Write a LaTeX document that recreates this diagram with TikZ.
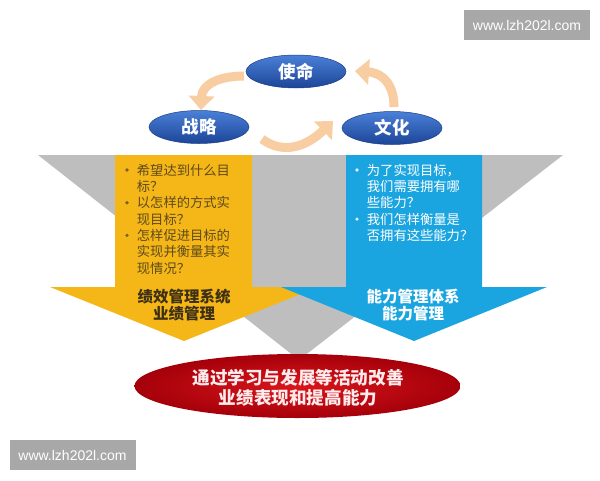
\documentclass[tikz,border=0pt]{standalone}
\usepackage{fontspec}
\setmainfont{Noto Sans CJK SC}
\newfontfamily\wmfont{Liberation Sans}
\usetikzlibrary{shapes.geometric,arrows.meta}
\definecolor{ygold}{HTML}{F5B717}
\definecolor{cblue}{HTML}{1BA5E0}
\definecolor{fgray}{HTML}{BEBEBE}
\definecolor{ellTop}{HTML}{4A80D8}
\definecolor{ellBot}{HTML}{1C4597}
\definecolor{ellEdge}{HTML}{1A3C86}
\definecolor{arrc}{HTML}{F9CDA2}
\definecolor{ytextc}{HTML}{5E4A1C}
\definecolor{ytitle}{HTML}{3E3014}
\definecolor{redIn}{HTML}{D8161C}
\definecolor{redOut}{HTML}{A5000A}
\definecolor{wmgray}{HTML}{A8A8A8}
\tikzset{
  topell/.style={ellipse, minimum width=100pt, minimum height=33pt, inner sep=0pt,
    top color=ellTop, bottom color=ellBot, draw=ellEdge, line width=0.5pt,
    text=white, font=\fontsize{17.5}{18}\selectfont\bfseries},
  carrow/.style={draw=arrc, line width=9pt, -{Triangle[width=25pt,length=14pt]}},
  ytext/.style={anchor=base west, inner sep=0pt, text=ytextc, font=\fontsize{13.3}{16}\selectfont},
  ybul/.style={circle, inner sep=0pt, minimum size=3.6pt, fill=ytextc!80!ygold},
  btext/.style={anchor=base west, inner sep=0pt, text=white, font=\fontsize{13.3}{16}\selectfont},
  bbul/.style={circle, inner sep=0pt, minimum size=3.6pt, fill=white!85!cblue},
  ttl/.style={anchor=base, inner sep=0pt, font=\fontsize{15.5}{16}\selectfont\bfseries},
  redell/.style={ellipse, minimum width=326pt, minimum height=64pt, inner sep=0pt,
    inner color=redIn, outer color=redOut},
  rtext/.style={anchor=base, inner sep=0pt, text=white!92!red, font=\fontsize{17.6}{18}\selectfont\bfseries},
  wm/.style={fill=wmgray, text=white, minimum width=126pt, minimum height=30pt, inner sep=0pt,
    font=\wmfont\fontsize{14}{14}\selectfont}
}
\begin{document}
\begin{tikzpicture}[x=1pt,y=-1pt]
\useasboundingbox (0,0) rectangle (600,480);
\fill[white] (0,0) rectangle (600,480);

% gray funnel
\fill[fgray] (38,155) -- (563,155) -- (299,360) -- cycle;

% yellow arrow
\fill[ygold] (115,155) -- (252,155) -- (252,287) -- (318,287) -- (184,341) -- (50,287) -- (115,287) -- cycle;
% blue arrow
\fill[cblue] (346,155) -- (482,155) -- (482,287) -- (547,287) -- (414,341) -- (281,287) -- (346,287) -- cycle;

% top ellipses
\node[topell] (mission) at (296,71.5) {使命};
\node[topell] (strategy) at (199,127) {战略};
\node[topell] (culture) at (392,128) {文化};

% cycle arrows
\coordinate (a1s) at (244,76);
\coordinate (a1e) at (201,110);
\coordinate (a2s) at (262,139);
\coordinate (a2e) at (333,121);
\coordinate (a3s) at (394,107);
\coordinate (a3e) at (355,71);
\draw[carrow] (a1s) .. controls (218,76) and (202,85) .. (a1e);
\draw[carrow] (a2s) .. controls (282,154) and (305,148) .. (a2e);
\draw[carrow] (a3s) .. controls (394,86) and (384,73) .. (a3e);

% yellow text
\foreach \t [count=\i] in {希望达到什么目,标？,以怎样的方式实,现目标？,怎样促进目标的,实现并衡量其实,现情况？}
  \node[ytext] (yl\i) at (136.7,{175+16.35*(\i-1)}) {\t};
\node[ybul] (yb1) at (127,170) {};
\node[ybul] (yb2) at (127,{170+16.35*2}) {};
\node[ybul] (yb3) at (127,{170+16.35*4}) {};
\node[ttl, text=ytitle] (yt1) at (184,302.5) {绩效管理系统};
\node[ttl, text=ytitle] (yt2) at (184,319) {业绩管理};

% blue text
\foreach \t [count=\i] in {为了实现目标，,我们需要拥有哪,些能力？,我们怎样衡量是,否拥有这些能力？}
  \node[btext] (bl\i) at (366.7,{175+16.35*(\i-1)}) {\t};
\node[bbul] (bb1) at (357,170) {};
\node[bbul] (bb2) at (357,{170+16.35*3}) {};
\node[ttl, text=white] (bt1) at (413,302.5) {能力管理体系};
\node[ttl, text=white] (bt2) at (413,319) {能力管理};

% red goal ellipse
\node[redell] (goal) at (297.5,386) {};
\node[rtext] (g1) at (298,384.5) {通过学习与发展等活动改善};
\node[rtext] (g2) at (298,404.5) {业绩表现和提高能力};

% watermarks
\node[wm] (wm1) at (527,25) {www.lzh202l.com};
\node[wm] (wm2) at (72.5,455) {www.lzh202l.com};
\end{tikzpicture}
\end{document}
